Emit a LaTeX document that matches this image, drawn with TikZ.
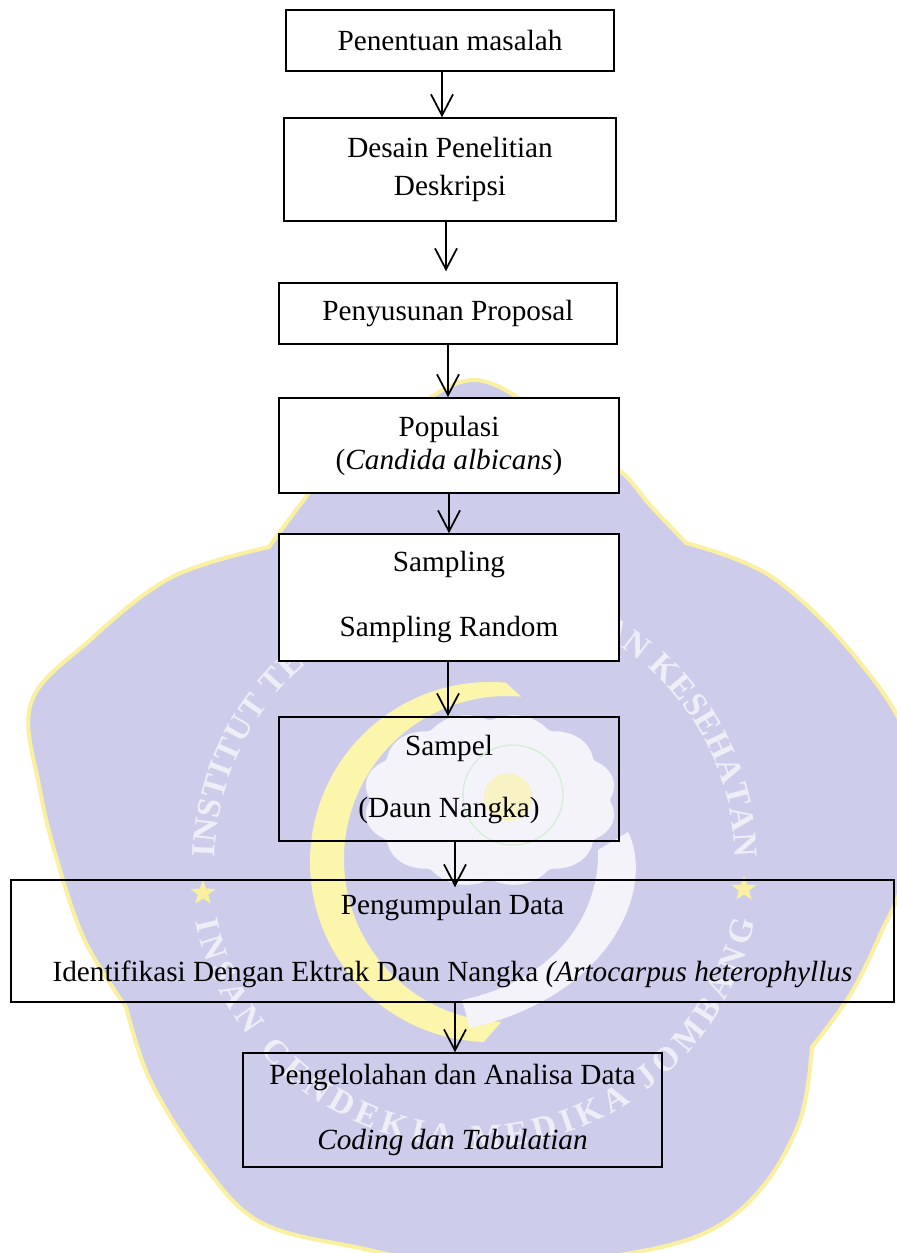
\documentclass[tikz,border=0pt]{standalone}
\usepackage{fontspec}
\setmainfont{Liberation Serif}
\usepackage{tikz}
\usetikzlibrary{arrows.meta}
\usetikzlibrary{shapes.geometric}
\usetikzlibrary{decorations.text}

\definecolor{lavender}{RGB}{205,205,235}
\definecolor{rimyellow}{RGB}{250,240,160}
\definecolor{moonyellow}{RGB}{252,246,172}
\definecolor{dotyellow}{RGB}{248,242,196}
\definecolor{ringtext}{RGB}{238,238,247}
\definecolor{palewhite}{RGB}{243,243,249}
\definecolor{palegreen}{RGB}{212,238,212}

\tikzset{
  box/.style={draw, line width=0.6pt, align=center, inner sep=0pt, font=\fontsize{11.7}{14}\selectfont},
  solidbox/.style={box, fill=white},
  arrow/.style={-{Straight Barb[length=8.4pt,width=8.8pt]}, line width=0.7pt},
  ringpath/.style={decorate, decoration={text along path, text align={fit to path}}},
}

\begin{document}
\begin{tikzpicture}[x=0.4pt,y=-0.4pt]
    \useasboundingbox (0,0) rectangle (897,1253);
    \fill[white] (0,0) rectangle (897,1253);

    % logo in the background
    \filldraw[fill=lavender, draw=rimyellow, line width=1.6pt]
      plot[smooth, tension=0.6] coordinates {(269,547) (300,505) (329,470) (400,418) (474,380) (548,418) (619,470) (650,505) (686,543)}
      -- plot[smooth, tension=0.6] coordinates {(686,543) (772,577) (858,660) (910,750) (905,870) (880,935) (850,995) (812,1047)}
      -- plot[smooth, tension=0.6] coordinates {(812,1047) (800,1120) (760,1190) (700,1235) (600,1258) (475,1268) (360,1248) (260,1222) (200,1160) (150,1080) (126,1007)}
      -- plot[smooth, tension=0.6] coordinates {(126,1007) (86,943) (60,870) (40,790) (31,703) (90,640) (172,577) (269,547)}
      -- cycle;
    \begin{scope}[shift={(475,862)}, x=0.4pt, y=0.4pt]
        \fill[moonyellow] (30.7,179.3) arc[start angle=85, end angle=268, radius=180]
          -- (26.3,-159.9) arc[start angle=268, end angle=85, radius=163] -- cycle;
        \path[ringpath, decoration={text={|\fontsize{13.5}{14}\bfseries\selectfont\color{ringtext}|INSTITUT TEKNOLOGI SAINS DAN KESEHATAN}}]
          (179:260) arc[start angle=179, end angle=1, radius=260];
        \path[ringpath, decoration={text={|\fontsize{13.5}{14}\bfseries\selectfont\color{ringtext}|INSAN CENDEKIA MEDIKA JOMBANG}}]
          (192:286) arc[start angle=192, end angle=348, radius=286];
    \end{scope}
    \fill[palewhite] plot[smooth cycle, domain=0:355, samples=72]
      ({490+(120+7*abs(sin(6*\x)))*cos(\x)}, {800+(80+7*abs(sin(6*\x)))*sin(\x)});
    \fill[palewhite] (628,832) .. controls (655,885) and (615,995) .. (470,1028)
      -- (462,1000) .. controls (565,978) and (600,905) .. (598,850) -- cycle;
    \draw[palegreen, line width=0.5pt] (513,795) circle[radius=50];
    \fill[dotyellow] (508,797) circle[radius=24];
    \node[star, star points=5, star point ratio=2.4, fill=rimyellow, inner sep=0pt, minimum size=10.5pt] (starL) at (203,893) {};
    \node[star, star points=5, star point ratio=2.4, fill=rimyellow, inner sep=0pt, minimum size=10.5pt] (starR) at (744,889) {};

    % flow
    \node[solidbox, minimum width=131.2pt, minimum height=24.4pt] (masalah) at (450,40.5) {Penentuan masalah};
    \node[solidbox, minimum width=132.8pt, minimum height=41.2pt] (desain) at (450,169.5) {Desain Penelitian\\[1.2pt]Deskripsi};
    \node[solidbox, minimum width=135.2pt, minimum height=24.4pt] (proposal) at (448,313.5) {Penyusunan Proposal};
    \node[solidbox, minimum width=136pt, minimum height=38pt] (populasi) at (449,445.5) {Populasi\\[-0.8pt](\textit{Candida albicans})};
    \node[solidbox, minimum width=136pt, minimum height=50.8pt] (sampling) at (449,597.5) {Sampling\\[12pt]Sampling Random};
    \node[box, minimum width=136pt, minimum height=49.6pt] (sampel) at (449,779) {Sampel\\[10.8pt](Daun Nangka)};
    \node[box, minimum width=353.2pt, minimum height=48.8pt] (pengumpulan) at (452.5,941) {Pengumpulan Data\\[12.8pt]Identifikasi Dengan Ektrak Daun Nangka \textit{(Artocarpus heterophyllus}};
    \node[box, minimum width=167.6pt, minimum height=45.6pt] (pengolahan) at (452.5,1110) {Pengelolahan dan Analisa Data\\[12pt]\textit{Coding dan Tabulatian}};

    \foreach \from/\to/\dx/\gap in {masalah/desain/-8/0, desain/proposal/-4/4.4, proposal/populasi/0/0, populasi/sampling/0/0, sampling/sampel/-1/0, sampel/pengumpulan/6/-3.2, pengumpulan/pengolahan/2.5/0}
        \draw[arrow, shorten >=\gap pt] (\from.south) ++(\dx,0) coordinate (s) -- (s |- \to.north);
\end{tikzpicture}
\end{document}
